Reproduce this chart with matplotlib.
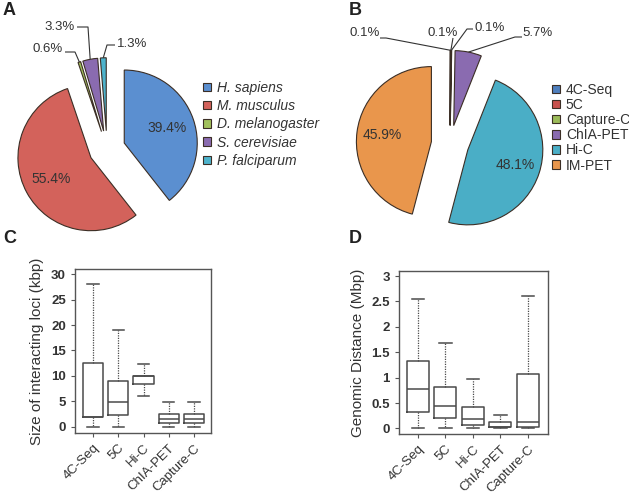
import matplotlib
matplotlib.use('Agg')
import matplotlib.pyplot as plt
import numpy as np

plt.rcParams['font.family'] = ['Liberation Sans', 'DejaVu Sans']

# A - species share
species = ['H. sapiens', 'M. musculus', 'D. melanogaster', 'S. cerevisiae', 'P. falciparum']
species_pct = [39.4, 55.4, 0.6, 3.3, 1.3]
species_cols = ['#5b8fd0', '#d3625b', '#a2c15c', '#8a6bb0', '#4db3cc']

# B - method share
methods = ['4C-Seq', '5C', 'Capture-C', 'ChIA-PET', 'Hi-C', 'IM-PET']
methods_pct = [0.1, 0.1, 0.1, 5.7, 48.1, 45.9]
methods_cols = ['#4f7fbd', '#c8524d', '#9bbb59', '#8a6bb0', '#4aaec6', '#e9964c']

# C / D - box summaries (low whisker, q1, median, q3, high whisker)
box_names = ['4C-Seq', '5C', 'Hi-C', 'ChIA-PET', 'Capture-C']
size_lo = [0, 0, 6.0, 0, 0]
size_q1 = [2.0, 2.4, 8.4, 0.7, 0.7]
size_med = [2.0, 4.9, 10.0, 1.6, 1.6]
size_q3 = [12.6, 9.1, 10.0, 2.5, 2.5]
size_hi = [28.0, 19.0, 12.4, 4.8, 4.8]

dist_lo = [0.01, 0.01, 0.01, 0.005, 0.005]
dist_q1 = [0.33, 0.21, 0.065, 0.02, 0.03]
dist_med = [0.77, 0.44, 0.18, 0.03, 0.13]
dist_q3 = [1.32, 0.81, 0.43, 0.12, 1.07]
dist_hi = [2.55, 1.69, 0.98, 0.27, 2.61]

W, H = 629, 494
fig = plt.figure(figsize=(W / 100, H / 100), dpi=100)
txtc = '#333333'
edgec = '#3b2e25'


def px_axes(x0, y0, x1, y1):
    # rect from pixel box (top-left origin)
    return fig.add_axes([x0 / W, (H - y1) / H, (x1 - x0) / W, (y1 - y0) / H])


def big_only(p):
    return '%.1f%%' % p if p > 10 else ''


def draw_pie(ax, vals, cols, names, cx, cy, r, box, labels, pctd, italic, lspace, legpos):
    x0, y0, x1, y1 = box
    wedges, _, autos = ax.pie(vals, colors=cols, startangle=90, counterclock=False,
                              explode=[0.25] * len(vals), autopct=big_only, pctdistance=pctd,
                              wedgeprops=dict(edgecolor=edgec, linewidth=0.8),
                              textprops=dict(fontsize=10, color=txtc))
    ax.set_xlim((x0 - cx) / r, (x1 - cx) / r)
    ax.set_ylim((cy - y1) / r, (cy - y0) / r)
    ax.set_aspect('auto')
    for i, (txy, sxy, exy) in labels.items():
        w = wedges[i]
        mid = np.deg2rad((w.theta1 + w.theta2) / 2)
        tip = (w.center[0] + w.r * np.cos(mid), w.center[1] + w.r * np.sin(mid))
        ax.text(txy[0], txy[1], '%g%%' % vals[i], ha='center', va='center',
                fontsize=9.5, color=txtc)
        ax.plot([sxy[0], exy[0], tip[0]], [sxy[1], exy[1], tip[1]], color=txtc, lw=0.8,
                solid_capstyle='butt')
    prop = {'size': 10}
    if italic:
        prop['style'] = 'italic'
    leg = ax.legend(wedges, names, loc='upper left', bbox_to_anchor=legpos,
                    bbox_transform=fig.transFigure, frameon=False, prop=prop,
                    handlelength=0.55, handleheight=0.55, handletextpad=0.45,
                    labelspacing=lspace, borderpad=0, borderaxespad=0)
    for t in leg.get_texts():
        t.set_color(txtc)


def to_data(px, py, cx, cy, r):
    return ((px - cx) / r, (cy - py) / r)


# --- A
cxA, cyA, rA = 107, 149, 73
axA = px_axes(0, 0, 310, 240)
labA = {
    2: (to_data(48, 49, cxA, cyA, rA), to_data(65, 52, cxA, cyA, rA), to_data(75, 52, cxA, cyA, rA)),
    3: (to_data(60, 27, cxA, cyA, rA), to_data(77, 27, cxA, cyA, rA), to_data(88, 27, cxA, cyA, rA)),
    4: (to_data(132, 44, cxA, cyA, rA), to_data(115, 45, cxA, cyA, rA), to_data(107, 45, cxA, cyA, rA)),
}
draw_pie(axA, species_pct, species_cols, species, cxA, cyA, rA, (0, 0, 310, 240), labA,
         0.62, True, 0.3, (203 / W, 1 - 81 / H))

# --- B
cxB, cyB, rB = 450, 144, 75
axB = px_axes(310, 0, 629, 240)
labB = {
    0: (to_data(365, 33, cxB, cyB, rB), to_data(380, 38, cxB, cyB, rB), to_data(386, 38, cxB, cyB, rB)),
    1: (to_data(443, 33, cxB, cyB, rB), to_data(453, 38, cxB, cyB, rB), to_data(453, 38, cxB, cyB, rB)),
    2: (to_data(490, 28, cxB, cyB, rB), to_data(473, 29, cxB, cyB, rB), to_data(467, 29, cxB, cyB, rB)),
    3: (to_data(538, 33, cxB, cyB, rB), to_data(522, 37, cxB, cyB, rB), to_data(515, 37, cxB, cyB, rB)),
}
draw_pie(axB, methods_pct, methods_cols, methods, cxB, cyB, rB, (310, 0, 629, 240), labB,
         0.66, False, 0.08, (552 / W, 1 - 83 / H))


# --- boxplots
def draw_box(ax, lo, q1, med, q3, hi, ylab, ylim, yticks, xlim):
    c = '#4a4a4a'
    stats = [dict(whislo=a, q1=b, med=m, q3=d, whishi=e, fliers=[])
             for a, b, m, d, e in zip(lo, q1, med, q3, hi)]
    ax.bxp(stats, widths=0.8, capwidths=0.45, showfliers=False,
           boxprops=dict(color=c, lw=1.1), medianprops=dict(color=c, lw=1.1),
           whiskerprops=dict(color=c, lw=0.9, linestyle=(0, (1, 1))),
           capprops=dict(color=c, lw=1.1))
    ax.set_xlim(xlim)
    ax.set_ylim(ylim)
    ax.set_xticks(range(1, len(box_names) + 1))
    ax.set_xticklabels(box_names, rotation=45, ha='right', rotation_mode='anchor',
                       fontsize=9.5, color=txtc)
    ax.set_yticks(yticks)
    ax.set_yticklabels(['%g' % v for v in yticks], fontsize=9.5, fontweight='bold', color=txtc)
    ax.set_ylabel(ylab, fontsize=11, color=txtc, labelpad=5)
    ax.tick_params(direction='out', length=3, width=0.8, color='#555555')
    for s in ax.spines.values():
        s.set_color('#555555')
        s.set_linewidth(1)


axC = px_axes(75, 269, 211, 433)
draw_box(axC, size_lo, size_q1, size_med, size_q3, size_hi,
         'Size of interacting loci (kbp)', (-1.2, 31), [0, 5, 10, 15, 20, 25, 30], (0.28, 5.68))

axD = px_axes(399, 271, 548, 434)
draw_box(axD, dist_lo, dist_q1, dist_med, dist_q3, dist_hi,
         'Genomic Distance (Mbp)', (-0.11, 3.1), [0, 0.5, 1, 1.5, 2, 2.5, 3], (0.31, 5.73))

# panel letters
for lab, x, y in [('A', 3, 2), ('B', 349, 2), ('C', 3, 230), ('D', 349, 230)]:
    fig.text(x / W, 1 - y / H, lab, fontsize=13, fontweight='bold', va='top', ha='left',
             color='#222222')

fig.savefig('out.png', dpi=100)
